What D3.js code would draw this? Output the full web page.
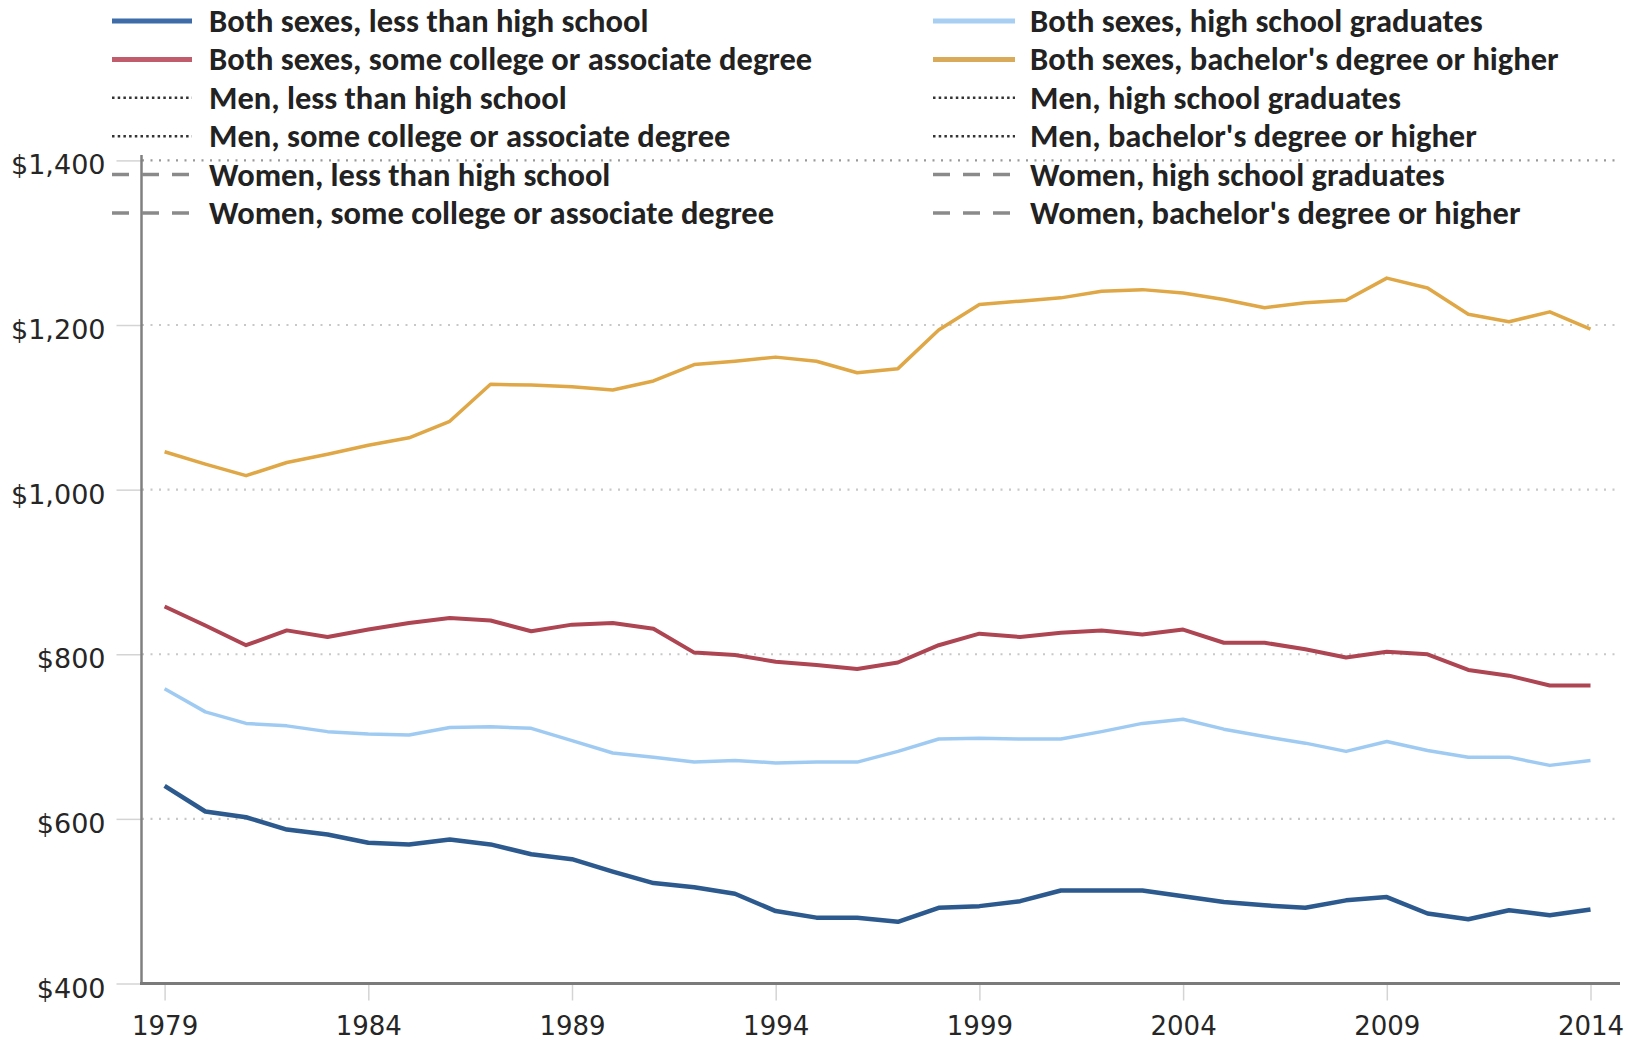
<!DOCTYPE html>
<html>
<head>
<meta charset="utf-8">
<script src="https://cdn.jsdelivr.net/npm/d3@7"></script>
<style>
  body { margin: 0; background: #fff; }
  svg { display: block; }
  .legend text { font-family: Carlito, "Liberation Sans Narrow", "Open Sans", sans-serif; font-weight: bold; fill: #222; }
  .axis text { font-family: "DejaVu Sans", Verdana, sans-serif; fill: #262626; }
</style>
</head>
<body>
<svg id="chart" width="1644" height="1045"></svg>
<script>
// years on the x axis
var years = [1979,1980,1981,1982,1983,1984,1985,1986,1987,1988,1989,1990,1991,1992,1993,1994,1995,1996,
             1997,1998,1999,2000,2001,2002,2003,2004,2005,2006,2007,2008,2009,2010,2011,2012,2013,2014];

// median weekly earnings, both sexes
var lessThanHS  = [640,609,602,587,581,571,569,575,569,557,551,536,522,517,509,488,480,480,
                   475,492,494,500,513,513,513,506,499,495,492,501,505,485,478,489,483,490];
var hsGrad      = [758,730,716,713,706,703,702,711,712,710,695,680,675,669,671,668,669,669,
                   682,697,698,697,697,706,716,721,709,700,692,682,694,683,675,675,665,671];
var someCollege = [858,835,811,829,821,830,838,844,841,828,836,838,831,802,799,791,787,782,
                   790,811,825,821,826,829,824,830,814,814,806,796,803,800,781,774,762,762];
var bachelors   = [1046,1031,1017,1033,1043,1054,1063,1083,1128,1127,1125,1121,1132,1152,1156,1161,1156,1142,
                   1147,1194,1225,1229,1233,1241,1243,1239,1231,1221,1227,1230,1257,1245,1213,1204,1216,1195];

var yTicks = [400,600,800,1000,1200,1400];
var xTicks = [1979,1984,1989,1994,1999,2004,2009,2014];

// legend entries, left column then right column
var legendLeft  = ["Both sexes, less than high school", "Both sexes, some college or associate degree",
                   "Men, less than high school", "Men, some college or associate degree",
                   "Women, less than high school", "Women, some college or associate degree"];
var legendRight = ["Both sexes, high school graduates", "Both sexes, bachelor's degree or higher",
                   "Men, high school graduates", "Men, bachelor's degree or higher",
                   "Women, high school graduates", "Women, bachelor's degree or higher"];

var svg = d3.select("#chart");

var x = d3.scaleLinear().domain([1979, 2014]).range([164.6, 1590.5]);
var y = d3.scaleLinear().domain([400, 1400]).range([983.5, 160.4]);

// gridlines
svg.append("g").selectAll("line")
  .data(yTicks.filter(function(d){ return d > 400; }))
  .enter().append("line")
  .attr("x1", 142).attr("x2", 1620)
  .attr("y1", function(d){ return y(d); }).attr("y2", function(d){ return y(d); })
  .attr("stroke", function(d){ return d == 1400 ? "#999" : "#c8c8c8"; })
  .attr("stroke-width", 2.2)
  .attr("stroke-dasharray", "2,6.5");

// y axis
var yAxis = svg.append("g").attr("class", "axis").attr("transform", "translate(141.5,0)")
  .call(d3.axisLeft(y).tickValues(yTicks).tickSize(25).tickPadding(11)
    .tickFormat(function(d){ return "$" + d3.format(",")(d); }));
yAxis.select(".domain").remove();
yAxis.selectAll(".tick line").attr("stroke", "#d4d4d4").attr("stroke-width", 1.5);
yAxis.selectAll(".tick text").attr("font-size", 27).attr("dy", "0.5em");

// x axis
var xAxis = svg.append("g").attr("class", "axis").attr("transform", "translate(0,983.5)")
  .call(d3.axisBottom(x).tickValues(xTicks).tickSize(17).tickPadding(16).tickFormat(d3.format("d")));
xAxis.select(".domain").remove();
xAxis.selectAll(".tick line").attr("stroke", "#d4d4d4").attr("stroke-width", 1.5);
xAxis.selectAll(".tick text").attr("font-size", 26);

// axis lines
svg.append("line").attr("x1", 141.5).attr("x2", 141.5).attr("y1", 155).attr("y2", 984)
  .attr("stroke", "#808080").attr("stroke-width", 2.5);
svg.append("line").attr("x1", 140).attr("x2", 1620).attr("y1", 983.5).attr("y2", 983.5)
  .attr("stroke", "#7a7a7a").attr("stroke-width", 3);

// series lines
var series = [
  {values: lessThanHS,  color: "#2c5a8e", width: 4.5},
  {values: someCollege, color: "#ad4552", width: 4},
  {values: hsGrad,      color: "#9fcbf2", width: 3.5},
  {values: bachelors,   color: "#dfa746", width: 3.5}
];
var line = d3.line()
  .x(function(d, i){ return x(years[i]); })
  .y(function(d){ return y(d); });
svg.append("g").selectAll("path")
  .data(series).enter().append("path")
  .attr("d", function(s){ return line(s.values); })
  .attr("fill", "none")
  .attr("stroke", function(s){ return s.color; })
  .attr("stroke-width", function(s){ return s.width; })
  .attr("stroke-linejoin", "round");

// legend
var legendStyles = [
  {stroke: "#3d6ca8", width: 5, dash: null},
  {stroke: "#c05c6b", width: 5, dash: null},
  {stroke: "#333", width: 2.5, dash: "2.5,3.2"},
  {stroke: "#333", width: 2.5, dash: "2.5,3.2"},
  {stroke: "#8a8a8a", width: 3.5, dash: "17,13"},
  {stroke: "#8a8a8a", width: 3.5, dash: "17,13"}
];
var legendStylesRight = [
  {stroke: "#a7cff2", width: 5, dash: null},
  {stroke: "#d9aa5a", width: 5, dash: null},
  legendStyles[2], legendStyles[3], legendStyles[4], legendStyles[5]
];
var rowY = function(i){ return 21 + i * 38.4; };

function drawLegend(names, styles, x0, x1, tx) {
  var g = svg.append("g").attr("class", "legend");
  var row = g.selectAll("g").data(names).enter().append("g");
  row.append("line")
    .attr("x1", x0).attr("x2", x1)
    .attr("y1", function(d, i){ return rowY(i); }).attr("y2", function(d, i){ return rowY(i); })
    .attr("stroke", function(d, i){ return styles[i].stroke; })
    .attr("stroke-width", function(d, i){ return styles[i].width; })
    .attr("stroke-dasharray", function(d, i){ return styles[i].dash; });
  row.append("text")
    .attr("x", tx).attr("y", function(d, i){ return rowY(i) + 11; })
    .attr("font-size", 32.5)
    .text(function(d){ return d; });
}
drawLegend(legendLeft, legendStyles, 112, 192, 209);
drawLegend(legendRight, legendStylesRight, 933, 1015, 1030);
</script>
</body>
</html>
